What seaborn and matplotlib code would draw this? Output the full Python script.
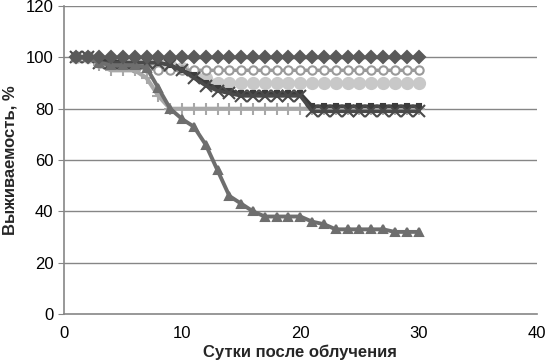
import numpy as np
import pandas as pd
import seaborn as sns
import matplotlib
matplotlib.use('Agg')
import matplotlib.pyplot as plt

# days after irradiation
days = list(range(1, 31))

# survival, %
s_diamond = [100] * 30
s_square = [100, 100, 99, 99, 98, 98, 98, 98, 97, 95, 93, 90, 88, 87, 86, 86, 86, 86, 86, 86,
             81, 81, 81, 81, 81, 81, 81, 81, 81, 81]
s_triangle = [100, 100, 98, 97, 97, 97, 96, 88, 80, 76, 73, 66, 56, 46, 43, 40, 38, 38, 38, 38,
              36, 35, 33, 33, 33, 33, 33, 32, 32, 32]
s_cross = [100, 100, 98, 98, 98, 98, 98, 98, 97, 95, 92, 89, 87, 86, 85, 85, 85, 85, 85, 85,
           79, 79, 79, 79, 79, 79, 79, 79, 79, 79]
s_ring = [100, 100, 98, 97, 97, 96, 96, 95, 95, 95, 95, 95, 95, 95, 95, 95, 95, 95, 95, 95,
          95, 95, 95, 95, 95, 95, 95, 95, 95, 95]
s_circle = [100, 100, 99, 98, 98, 98, 98, 98, 97, 96, 94, 92, 90, 90, 90, 90, 90, 90, 90, 90,
            90, 90, 90, 90, 90, 90, 90, 90, 90, 90]
s_plus = [100, 100, 97, 95, 95, 95, 92, 85, 80, 80, 80, 80, 80, 80, 80, 80, 80, 80, 80, 80,
          80, 80, 80, 80, 80, 80, 80, 80, 80, 80]

x_ticks = [0, 10, 20, 30, 40]
y_ticks = [0, 20, 40, 60, 80, 100, 120]

sns.set_style('white')
plt.rcParams['font.family'] = ['Liberation Sans', 'DejaVu Sans']

fig = plt.figure(figsize=(5.46, 3.63), dpi=100)
ax = fig.add_axes([0.117, 0.135, 0.866, 0.848])

grid_col = '#868686'
for y in y_ticks[1:]:
    ax.axhline(y, color=grid_col, lw=1, zorder=0)

styles = [
    (s_circle, '#c8c8c8', 'o', 8, '#c8c8c8', '#c8c8c8', 3.5),
    (s_ring, '#9a9a9a', 'o', 6, 'white', '#9a9a9a', 2.5),
    (s_plus, '#a8a8a8', '+', 9, '#a8a8a8', '#a8a8a8', 3.0),
    (s_square, '#3c3c3c', 's', 3.5, '#3c3c3c', '#3c3c3c', 2.5),
    (s_cross, '#4a4a4a', 'x', 8, '#4a4a4a', '#4a4a4a', 2.5),
    (s_triangle, '#6e6e6e', '^', 6, '#6e6e6e', '#6e6e6e', 2.8),
    (s_diamond, '#5a5a5a', 'D', 6.5, '#5a5a5a', '#5a5a5a', 2.5),
]

for vals, col, mk, ms, mfc, mec, lw in styles:
    df = pd.DataFrame({'day': days, 'surv': vals})
    sns.lineplot(data=df, x='day', y='surv', ax=ax, color=col, lw=lw, marker=mk, markersize=ms,
                 markerfacecolor=mfc, markeredgecolor=mec, markeredgewidth=1.5, zorder=3)

ax.set_xlim(0, 40)
ax.set_ylim(0, 120)
ax.set_xticks(x_ticks)
ax.set_yticks(y_ticks)
ax.tick_params(axis='both', labelsize=12, colors='black', length=4, direction='out',
               color=grid_col, left=True, bottom=False)
ax.tick_params(axis='x', pad=5)
for s in ['top', 'right']:
    ax.spines[s].set_visible(False)
for s in ['left', 'bottom']:
    ax.spines[s].set_color(grid_col)
    ax.spines[s].set_linewidth(1.2)

ax.set_xlabel('Сутки после облучения', fontsize=12, fontweight='bold', labelpad=2)
ax.set_ylabel('Выживаемость, %', fontsize=12, fontweight='bold', labelpad=6)

fig.savefig('out.png', dpi=100)
